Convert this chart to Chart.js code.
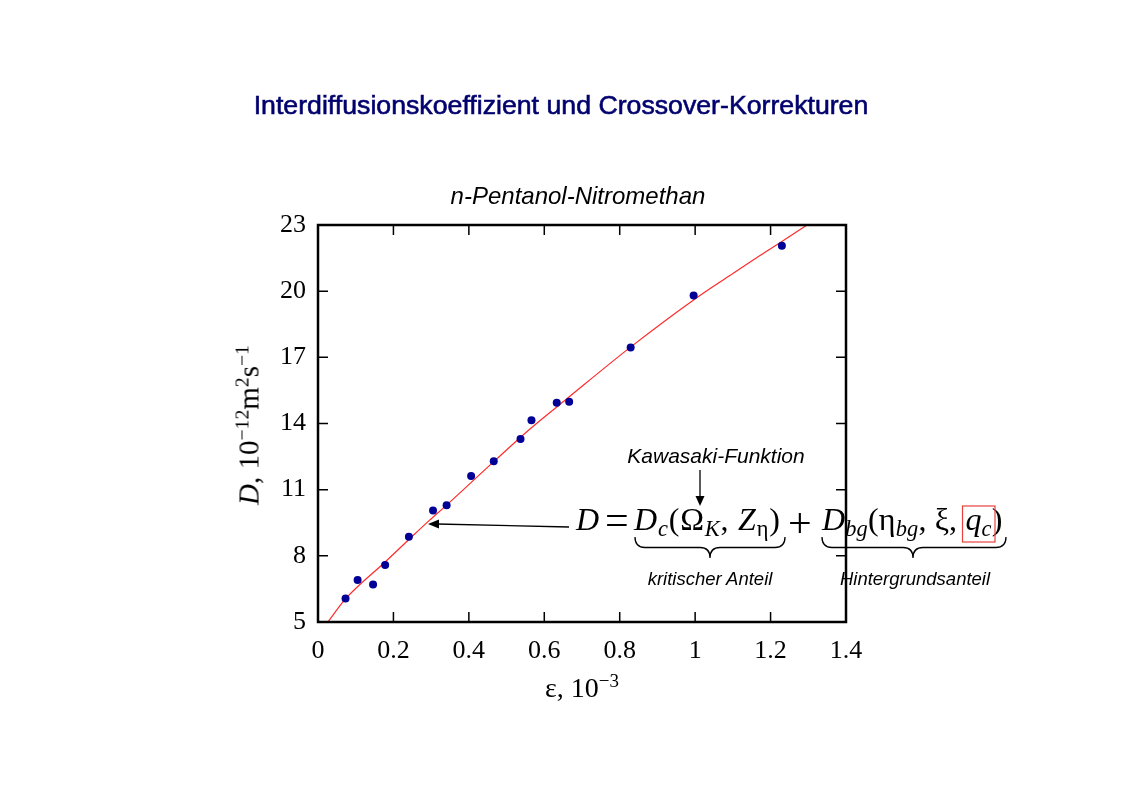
<!DOCTYPE html>
<html>
<head>
<meta charset="utf-8">
<script src="https://cdn.jsdelivr.net/npm/chart.js@4/dist/chart.umd.min.js"></script>
<style>
  html, body { margin: 0; padding: 0; background: #fff; }
  #wrap { position: relative; width: 1123px; height: 793px; overflow: hidden; }
  #chart { position: absolute; left: 0; top: 0; }
  #deco { position: absolute; left: 0; top: 0; pointer-events: none; }
  .t { position: absolute; white-space: nowrap; line-height: 1; }
  .c { transform: translateX(-50%); }
  #title { left: 561px; top: 90px; font: 26.7px "Liberation Sans", Arial, sans-serif; color: #00006e; -webkit-text-stroke: 0.6px #00006e; }
  #subtitle { left: 578px; top: 182px; font: italic 24px "Liberation Sans", Arial, sans-serif; color: #000; }
  .serif { font-family: "Liberation Serif", "Times New Roman", serif; }
  #ytitle { left: 249px; top: 425px; font-size: 29px; transform: translate(-50%, -50%) rotate(-90deg); }
  #xtitle { left: 582px; top: 674px; font-size: 28px; }
  sup { font-size: 0.68em; vertical-align: 0.5em; line-height: 0; }
  .f { font-family: "Liberation Serif", "Times New Roman", serif; font-size: 32px; top: 503px; color: #000; }
  .f sub { font-size: 0.7em; vertical-align: -0.28em; line-height: 0; }
  .op { font-family: "Liberation Serif", "Times New Roman", serif; font-size: 42px; top: 499px; color: #000; }
  .note { font: italic 18.5px "Liberation Sans", Arial, sans-serif; color: #000; top: 568px; }
</style>
</head>
<body>
<div id="wrap">
  <canvas id="chart" width="1123" height="793"></canvas>

  <div class="t c" id="title">Interdiffusionskoeffizient und Crossover-Korrekturen</div>
  <div class="t c" id="subtitle">n-Pentanol-Nitromethan</div>

  <div class="t serif" id="ytitle"><i>D</i>, 10<sup>−12</sup>m<sup>2</sup>s<sup>−1</sup></div>
  <div class="t c serif" id="xtitle">ε, 10<sup>−3</sup></div>

  <div class="t f" style="left:576px"><i>D</i></div>
  <div class="t op" style="left:605px">=</div>
  <div class="t f" style="left:634px; letter-spacing:0.8px"><i>D</i><sub><i>c</i></sub>(Ω<sub><i>K</i></sub>, <i>Z</i><sub>η</sub>)</div>
  <div class="t op" style="left:788px; top:502px">+</div>
  <div class="t f" style="left:822px; letter-spacing:0.15px"><i>D</i><sub><i>bg</i></sub>(η<sub><i>bg</i></sub>, ξ, <i>q</i><sub><i>c</i></sub>)</div>

  <div class="t c" style="left:716px; top:444px; font: italic 21px 'Liberation Sans', Arial, sans-serif;">Kawasaki-Funktion</div>
  <div class="t c note" style="left:710px">kritischer Anteil</div>
  <div class="t c note" style="left:915px">Hintergrundsanteil</div>

  <svg id="deco" width="1123" height="793">
    <!-- Kawasaki arrow -->
    <line x1="700" y1="470" x2="700" y2="497" stroke="#000" stroke-width="1.3"/>
    <polygon points="695.5,496 704.5,496 700,506" fill="#000"/>
    <!-- arrow from formula to curve -->
    <line x1="569" y1="527" x2="437" y2="524" stroke="#000" stroke-width="1.3"/>
    <polygon points="428,524 439,519.5 439,528.5" fill="#000"/>
    <!-- braces -->
    <path d="M635 537 Q635 547.5 645 547.5 L700 547.5 Q710 547.5 710 558 Q710 547.5 720 547.5 L775 547.5 Q785 547.5 785 537" fill="none" stroke="#000" stroke-width="1.3"/>
    <path d="M822 537 Q822 547.5 832 547.5 L903 547.5 Q913 547.5 913 558 Q913 547.5 923 547.5 L996 547.5 Q1006 547.5 1006 537" fill="none" stroke="#000" stroke-width="1.3"/>
    <!-- red box -->
    <rect x="962.5" y="506" width="32.5" height="36" fill="none" stroke="#e8413c" stroke-width="1.2"/>
  </svg>
</div>

<script>
// measured points (epsilon in 1e-3, D in 1e-12 m^2/s)
const epsMeasured = [0.073, 0.105, 0.146, 0.178, 0.241, 0.305, 0.341, 0.406, 0.466, 0.537, 0.566, 0.633, 0.666, 0.829, 0.996, 1.230];
const dMeasured   = [6.06, 6.90, 6.70, 7.59, 8.86, 10.06, 10.29, 11.62, 12.29, 13.30, 14.15, 14.94, 14.99, 17.45, 19.80, 22.06];

// crossover fit curve
const epsFit = [0.026, 0.073, 0.178, 0.241, 0.296, 0.341, 0.466, 0.562, 0.659, 0.827, 0.995, 1.092, 1.172, 1.225, 1.296];
const dFit   = [5.00, 6.05, 7.72, 8.74, 9.62, 10.30, 12.27, 13.75, 15.11, 17.44, 19.59, 20.71, 21.62, 22.20, 22.99];

const xTicks = [0, 0.2, 0.4, 0.6, 0.8, 1, 1.2, 1.4];
const xTickLabels = ["0", "0.2", "0.4", "0.6", "0.8", "1", "1.2", "1.4"];
const yTicks = [5, 8, 11, 14, 17, 20, 23];
const yTickLabels = ["5", "8", "11", "14", "17", "20", "23"];

const toXY = (xs, ys) => xs.map((x, i) => ({ x: x, y: ys[i] }));

// frame + inward ticks on all four sides
const framePlugin = {
  id: "frame",
  afterDatasetsDraw(chart) {
    const { ctx, chartArea: a, scales } = chart;
    ctx.save();
    ctx.strokeStyle = "#000";
    ctx.lineWidth = 1.5;
    ctx.beginPath();
    scales.x.ticks.forEach(t => {
      const px = scales.x.getPixelForValue(t.value);
      ctx.moveTo(px, a.bottom); ctx.lineTo(px, a.bottom - 10);
      ctx.moveTo(px, a.top); ctx.lineTo(px, a.top + 10);
    });
    scales.y.ticks.forEach(t => {
      const py = scales.y.getPixelForValue(t.value);
      ctx.moveTo(a.left, py); ctx.lineTo(a.left + 10, py);
      ctx.moveTo(a.right, py); ctx.lineTo(a.right - 10, py);
    });
    ctx.stroke();
    ctx.lineWidth = 2.5;
    ctx.strokeRect(a.left, a.top, a.right - a.left, a.bottom - a.top);
    ctx.restore();
  }
};

const tickFont = { family: "'Liberation Serif', 'Times New Roman', serif", size: 26 };

new Chart(document.getElementById("chart"), {
  type: "scatter",
  data: {
    datasets: [
      {
        label: "Messwerte",
        data: toXY(epsMeasured, dMeasured),
        backgroundColor: "#000096",
        borderColor: "#000096",
        borderWidth: 0,
        pointRadius: 4,
      },
      {
        label: "Crossover-Fit",
        data: toXY(epsFit, dFit),
        showLine: true,
        borderColor: "#ff2a2a",
        borderWidth: 1.2,
        pointRadius: 0,
        cubicInterpolationMode: "monotone",
      },
    ],
  },
  options: {
    responsive: false,
    animation: false,
    devicePixelRatio: 1,
    layout: { padding: { left: 258, right: 277, top: 225, bottom: 121 } },
    plugins: {
      legend: { display: false },
      tooltip: { enabled: false },
    },
    scales: {
      x: {
        type: "linear",
        min: 0,
        max: 1.4,
        afterBuildTicks: s => { s.ticks = xTicks.map(v => ({ value: v })); },
        afterFit: s => { s.height = 50; },
        grid: { display: false, drawTicks: false },
        border: { display: false },
        ticks: {
          color: "#000",
          font: tickFont,
          padding: 14,
          maxRotation: 0,
          callback: (v, i) => xTickLabels[i],
        },
      },
      y: {
        type: "linear",
        min: 5,
        max: 23,
        afterBuildTicks: s => { s.ticks = yTicks.map(v => ({ value: v })); },
        afterFit: s => { s.width = 60; },
        grid: { display: false, drawTicks: false },
        border: { display: false },
        ticks: {
          color: "#000",
          font: tickFont,
          padding: 12,
          callback: (v, i) => yTickLabels[i],
        },
      },
    },
  },
  plugins: [framePlugin],
});
</script>
</body>
</html>
